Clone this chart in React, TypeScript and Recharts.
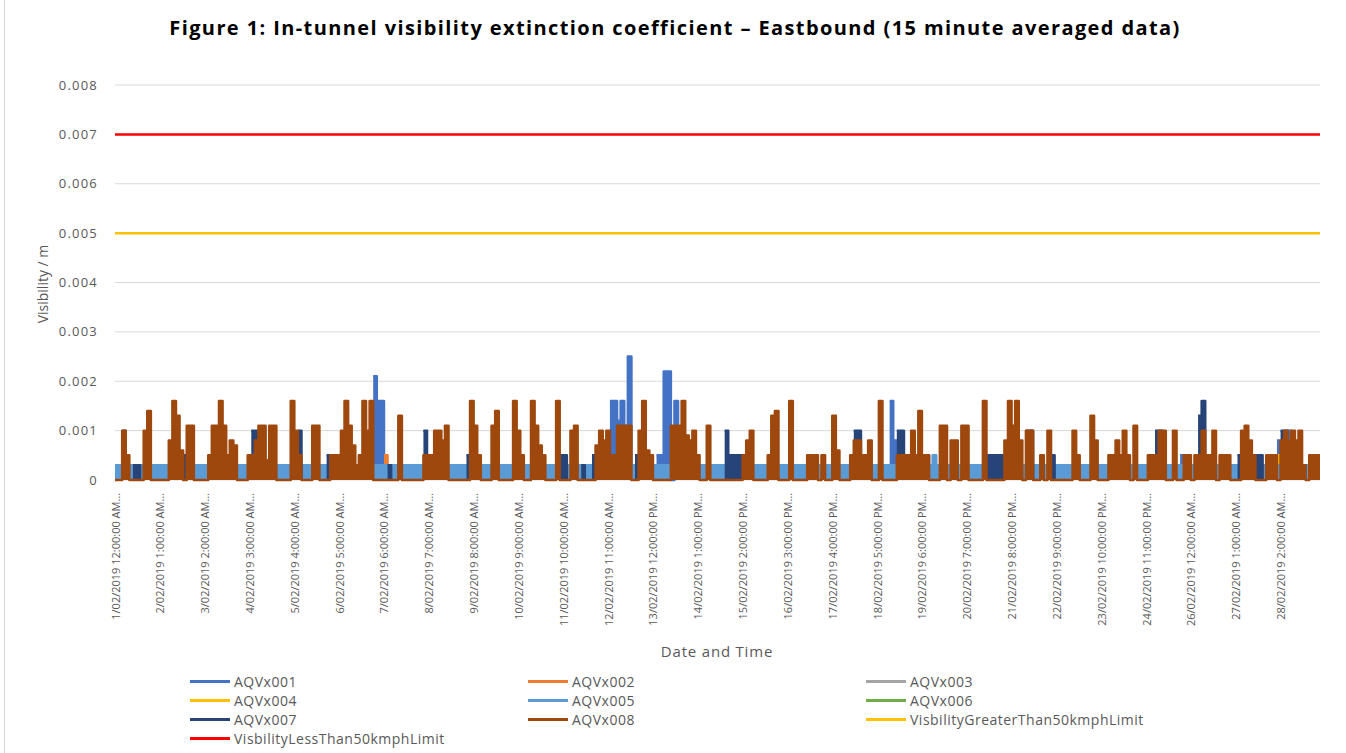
import React from 'react';
import { ComposedChart, Area, XAxis, YAxis, CartesianGrid, ReferenceLine } from 'recharts';

// Units: 0.0001 /m, one value per 2-hour slot,
// slot 0 = 1/02/2019 12:00 AM. One line per day, last lone value = 1/03 00:00.
const aqvx008 = [
  0, 0, 10, 5, 0, 0, 0, 0, 10, 14, 0, 0,
  0, 0, 0, 8, 16, 13, 6, 0, 11, 11, 0, 0,
  0, 0, 5, 11, 11, 16, 11, 5, 8, 7, 0, 0,
  0, 5, 5, 8, 11, 11, 4, 11, 11, 0, 0, 0,
  0, 16, 10, 5, 0, 0, 0, 11, 11, 0, 0, 0,
  5, 5, 5, 10, 16, 11, 7, 3, 5, 16, 10, 16,
  0, 0, 0, 0, 0, 0, 0, 13, 0, 0, 0, 0,
  0, 0, 5, 5, 5, 10, 10, 8, 11, 0, 0, 0,
  0, 0, 0, 16, 11, 5, 0, 0, 0, 11, 14, 0,
  0, 0, 0, 16, 10, 5, 0, 0, 16, 11, 7, 5,
  0, 0, 0, 16, 0, 0, 0, 10, 11, 0, 0, 0,
  0, 0, 7, 10, 8, 10, 5, 5, 11, 11, 11, 11,
  0, 0, 10, 16, 6, 5, 0, 0, 0, 0, 0, 11,
  11, 11, 16, 9, 8, 10, 5, 0, 0, 11, 0, 0,
  0, 0, 0, 0, 0, 0, 0, 5, 8, 10, 0, 0,
  0, 0, 5, 13, 14, 0, 0, 0, 16, 0, 0, 0,
  0, 5, 5, 5, 0, 5, 0, 0, 13, 6, 0, 0,
  0, 5, 8, 8, 5, 5, 8, 0, 0, 16, 0, 0,
  0, 0, 5, 5, 5, 5, 10, 5, 14, 5, 5, 0,
  0, 0, 11, 11, 0, 8, 8, 0, 11, 11, 0, 0,
  0, 0, 16, 0, 0, 0, 0, 0, 8, 16, 11, 16,
  8, 0, 10, 10, 0, 0, 5, 0, 10, 0, 0, 0,
  0, 0, 0, 10, 5, 0, 0, 0, 13, 8, 0, 0,
  0, 5, 5, 8, 5, 10, 5, 0, 11, 0, 0, 0,
  5, 5, 5, 10, 10, 0, 0, 10, 0, 0, 5, 5,
  0, 5, 5, 10, 5, 5, 10, 0, 5, 5, 5, 0,
  0, 0, 10, 11, 8, 5, 0, 0, 0, 5, 5, 5,
  0, 8, 10, 8, 10, 8, 10, 3, 0, 5, 5, 5,
  5,
];

const aqvx005 = [
  3, 3, 3, 3, 3, 3, 3, 3, 3, 3, 3, 3,
  3, 3, 3, 3, 3, 3, 3, 3, 3, 3, 3, 3,
  3, 3, 3, 3, 3, 3, 3, 3, 3, 3, 3, 3,
  3, 3, 3, 3, 3, 3, 3, 3, 3, 3, 3, 3,
  3, 3, 3, 3, 3, 3, 3, 3, 3, 3, 3, 3,
  3, 3, 3, 3, 3, 3, 3, 3, 3, 3, 3, 3,
  3, 3, 3, 3, 3, 3, 3, 3, 3, 3, 3, 3,
  3, 3, 3, 3, 3, 3, 3, 3, 3, 3, 3, 3,
  3, 3, 3, 3, 3, 3, 3, 3, 3, 3, 3, 3,
  3, 3, 3, 3, 3, 3, 3, 3, 3, 3, 3, 3,
  3, 3, 3, 3, 3, 3, 3, 3, 3, 3, 3, 3,
  3, 3, 3, 3, 3, 3, 3, 3, 3, 3, 3, 3,
  3, 3, 3, 3, 3, 3, 3, 3, 3, 3, 3, 3,
  3, 3, 3, 3, 3, 3, 3, 3, 3, 3, 3, 3,
  3, 3, 3, 3, 3, 3, 3, 3, 3, 3, 3, 3,
  3, 3, 3, 3, 3, 3, 3, 3, 3, 3, 3, 3,
  3, 3, 3, 3, 3, 3, 3, 3, 3, 3, 3, 3,
  3, 3, 3, 3, 3, 3, 3, 3, 3, 3, 3, 3,
  3, 3, 3, 3, 3, 3, 3, 3, 3, 3, 3, 3,
  5, 3, 3, 3, 3, 3, 3, 3, 3, 3, 3, 3,
  3, 3, 3, 3, 3, 3, 3, 3, 3, 3, 3, 3,
  3, 3, 3, 3, 3, 3, 3, 3, 3, 3, 3, 3,
  3, 3, 3, 3, 3, 3, 3, 3, 3, 3, 3, 3,
  3, 3, 3, 3, 3, 3, 3, 3, 3, 3, 3, 3,
  3, 3, 3, 3, 3, 3, 3, 3, 3, 3, 3, 3,
  3, 3, 3, 3, 3, 3, 3, 3, 3, 3, 3, 3,
  3, 3, 3, 3, 3, 3, 3, 3, 3, 3, 3, 3,
  3, 3, 3, 3, 3, 3, 3, 3, 3, 3, 3, 3,
  3,
];

// sparse ones: [slot, value]; each run drops back to 0 at the next slot
const aqvx001: [number, number][] = [
  [72, 21], [73, 16], [74, 16], [138, 16], [139, 16], [140, 12], [141, 16], [142, 11],
  [143, 25], [151, 5], [152, 5], [153, 22], [154, 22], [156, 16], [216, 16], [217, 8],
  [226, 5], [297, 5], [321, 5], [324, 8], [327, 10],
];
const aqvx002: [number, number][] = [[75, 5]];
const aqvx004: [number, number][] = [[324, 5]];
const aqvx007: [number, number][] = [
  [2, 10], [5, 3], [6, 3], [19, 5], [38, 10], [39, 10], [51, 10], [59, 5], [76, 3],
  [86, 10], [98, 5], [124, 5], [125, 5], [130, 3], [133, 5], [134, 5], [145, 5],
  [170, 10], [171, 5], [172, 5], [173, 5], [174, 5], [206, 10], [207, 10], [218, 10],
  [219, 10], [243, 5], [244, 5], [245, 5], [246, 5], [247, 5], [254, 10], [255, 10],
  [261, 5], [267, 5], [290, 10], [291, 10], [302, 13], [303, 16], [313, 5], [318, 5],
  [319, 5], [325, 10], [326, 10],
];
// AQVx003 and AQVx006 show nothing in the plot, only in the legend

const greaterThan50Limit = 0.005;
const lessThan50Limit = 0.007;

const yTicks = [0, 0.001, 0.002, 0.003, 0.004, 0.005, 0.006, 0.007, 0.008];
const tickHours = [0, 25, 50, 75, 100, 125, 150, 175, 200, 225, 250, 275, 300, 325, 350, 375, 400, 425, 450, 475, 500, 525, 550, 575, 600, 625, 650];
const tickLabels = [
  '1/02/2019 12:00:00 AM', '2/02/2019 1:00:00 AM', '3/02/2019 2:00:00 AM', '4/02/2019 3:00:00 AM',
  '5/02/2019 4:00:00 AM', '6/02/2019 5:00:00 AM', '7/02/2019 6:00:00 AM', '8/02/2019 7:00:00 AM',
  '9/02/2019 8:00:00 AM', '10/02/2019 9:00:00 AM', '11/02/2019 10:00:00 AM', '12/02/2019 11:00:00 AM',
  '13/02/2019 12:00:00 PM', '14/02/2019 1:00:00 PM', '15/02/2019 2:00:00 PM', '16/02/2019 3:00:00 PM',
  '17/02/2019 4:00:00 PM', '18/02/2019 5:00:00 PM', '19/02/2019 6:00:00 PM', '20/02/2019 7:00:00 PM',
  '21/02/2019 8:00:00 PM', '22/02/2019 9:00:00 PM', '23/02/2019 10:00:00 PM', '24/02/2019 11:00:00 PM',
  '26/02/2019 12:00:00 AM', '27/02/2019 1:00:00 AM', '28/02/2019 2:00:00 AM',
];

// drawn series, in Excel's order (later ones sit on top)
const series = [
  { key: 'aqvx001', color: '#4472C4' },
  { key: 'aqvx002', color: '#ED7D31' },
  { key: 'aqvx004', color: '#FFC000' },
  { key: 'aqvx005', color: '#5B9BD5' },
  { key: 'aqvx007', color: '#264478' },
  { key: 'aqvx008', color: '#9E480E' },
];
const legendItems = [
  { name: 'AQVx001', color: '#4472C4' },
  { name: 'AQVx002', color: '#ED7D31' },
  { name: 'AQVx003', color: '#A5A5A5' },
  { name: 'AQVx004', color: '#FFC000' },
  { name: 'AQVx005', color: '#5B9BD5' },
  { name: 'AQVx006', color: '#70AD47' },
  { name: 'AQVx007', color: '#264478' },
  { name: 'AQVx008', color: '#9E480E' },
  { name: 'VisbilityGreaterThan50kmphLimit', color: '#FFC000' },
  { name: 'VisbilityLessThan50kmphLimit', color: '#FF0000' },
];

const FONT = '"Open Sans", sans-serif';
const GREY = '#595959';

// sparse lookup: listed slot -> value, slot right after a run -> 0, else nothing drawn
const sparse = (pts: [number, number][]) => {
  const m = new Map(pts);
  return (i: number) => (m.has(i) ? m.get(i)! / 10000 : m.has(i - 1) ? 0 : null);
};
const s001 = sparse(aqvx001);
const s002 = sparse(aqvx002);
const s004 = sparse(aqvx004);
const s007 = sparse(aqvx007);

const data = aqvx008.map((v, i) => ({
  h: i * 2,
  aqvx001: s001(i),
  aqvx002: s002(i),
  aqvx004: s004(i),
  aqvx005: aqvx005[i] / 10000,
  aqvx007: s007(i),
  aqvx008: v / 10000,
}));

const DateTick = (props: any) => {
  const { x, y, payload } = props;
  const idx = tickHours.indexOf(payload.value);
  const ty = y + 11;
  return (
    <text
      x={x}
      y={ty}
      transform={`rotate(-90, ${x}, ${ty})`}
      textAnchor="end"
      dominantBaseline="central"
      fill={GREY}
      fontSize={11}
      fontFamily={FONT}
    >
      {idx >= 0 ? tickLabels[idx] + '…' : ''}
    </text>
  );
};

const legendCols = [190, 528, 866];
const legendRows = [681, 700, 719, 738];

export default function App() {
  return (
    <div style={{ position: 'absolute', left: 0, top: 0, width: 1346, height: 753, background: '#fff', fontFamily: FONT }}>
      <div style={{ position: 'absolute', left: 4, top: 0, width: 1, height: 753, background: '#d9d9d9' }} />
      <div
        style={{
          position: 'absolute', left: 0, top: 14, width: 1350, textAlign: 'center',
          fontWeight: 700, fontSize: 20, letterSpacing: 1.4, color: '#000',
        }}
      >
        Figure 1: In-tunnel visibility extinction coefficient – Eastbound (15 minute averaged data)
      </div>

      <ComposedChart width={1346} height={753} data={data} margin={{ top: 85, right: 26, bottom: 123, left: 0 }}>
        <CartesianGrid vertical={false} stroke="#d9d9d9" />
        <XAxis
          type="number"
          dataKey="h"
          domain={[0, 672]}
          ticks={tickHours}
          interval={0}
          height={150}
          tickLine={false}
          tickSize={0}
          axisLine={false}
          tick={<DateTick />}
        />
        <YAxis
          type="number"
          domain={[0, 0.008]}
          ticks={yTicks}
          width={115}
          axisLine={false}
          tickLine={false}
          tickSize={0}
          tickMargin={17}
          tickFormatter={(v: number) => (v === 0 ? '0' : v.toFixed(3))}
          tick={{ fill: GREY, fontSize: 13, fontFamily: FONT, letterSpacing: 1.2 }}
        />
        {series.map((s) => (
          <Area
            key={s.key}
            type="stepAfter"
            dataKey={s.key}
            stroke={s.color}
            fill={s.color}
            fillOpacity={1}
            strokeWidth={2.5}
            strokeLinejoin="round"
            connectNulls={false}
            dot={false}
            activeDot={false}
            isAnimationActive={false}
          />
        ))}
        <ReferenceLine y={greaterThan50Limit} stroke="#FFC000" strokeWidth={2.5} />
        <ReferenceLine y={lessThan50Limit} stroke="#FF0000" strokeWidth={2.5} />
      </ComposedChart>

      <div
        style={{
          position: 'absolute', left: 42, top: 284, transform: 'translate(-50%, -50%) rotate(-90deg)',
          fontSize: 14, color: GREY, whiteSpace: 'nowrap',
        }}
      >
        Visibility / m
      </div>
      <div
        style={{
          position: 'absolute', left: 717, top: 651, transform: 'translate(-50%, -50%)',
          fontSize: 15, letterSpacing: 0.8, color: GREY, whiteSpace: 'nowrap',
        }}
      >
        Date and Time
      </div>

      {legendItems.map((it, i) => (
        <div
          key={it.name}
          style={{
            position: 'absolute', left: legendCols[i % 3], top: legendRows[Math.floor(i / 3)] - 10,
            height: 20, display: 'flex', alignItems: 'center', whiteSpace: 'nowrap',
          }}
        >
          <span style={{ display: 'inline-block', width: 40, height: 3, background: it.color, marginRight: 4 }} />
          <span style={{ fontSize: 14, letterSpacing: 0.5, color: GREY }}>{it.name}</span>
        </div>
      ))}
    </div>
  );
}
